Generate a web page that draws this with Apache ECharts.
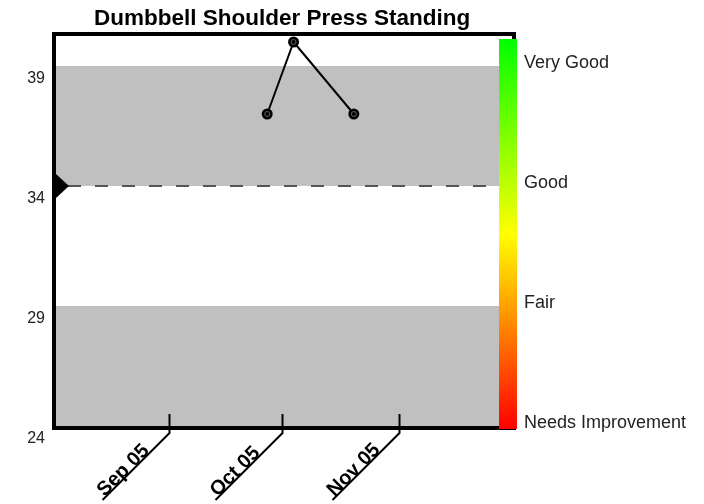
<!DOCTYPE html>
<html>
<head>
<meta charset="utf-8">
<title>Dumbbell Shoulder Press Standing</title>
<script src="https://cdn.jsdelivr.net/npm/echarts@6/dist/echarts.min.js"></script>
<style>
  html, body { margin: 0; padding: 0; background: #fff; }
  #chart { width: 704px; height: 504px; }
</style>
</head>
<body>
<div id="chart"></div>
<script>
// 训练记录
const sessionDates = ['2005-09-27', '2005-10-04', '2005-10-20'];
const sessionValues = [37, 40, 37];

// 坐标轴刻度
const monthTicks = ['2005-09-01', '2005-10-01', '2005-11-01'];
const monthLabels = ['Sep 05', 'Oct 05', 'Nov 05'];
const yTicks = [24, 29, 34, 39];

// 评级
const ratingValues = [39, 34, 29, 24];
const ratingNames = ['Very Good', 'Good', 'Fair', 'Needs Improvement'];
const grayBands = [[24, 29], [34, 39]];
const targetValue = 34;

const FONT = 'Liberation Sans, Arial, sans-serif';
const xMin = new Date(2005, 7, 1, 9).getTime();
const xMax = new Date(2005, 11, 1, 13).getTime();
const yMin = 23.917;
const yMax = 40.333;

const chart = echarts.init(document.getElementById('chart'));

const sessionData = sessionDates.map((d, i) => [d, sessionValues[i]]);

const option = {
  animation: false,
  title: {
    text: 'Dumbbell Shoulder Press Standing',
    left: 94,
    top: 7,
    padding: 0,
    textStyle: { fontFamily: FONT, fontSize: 22.5, fontWeight: 'bold', color: '#000' }
  },
  grid: { left: 54, right: 190, top: 34, bottom: 76 },
  xAxis: {
    type: 'time',
    min: xMin,
    max: xMax,
    axisLine: { show: false },
    axisTick: { show: false },
    axisLabel: { show: false },
    splitLine: { show: false }
  },
  yAxis: [
    {
      type: 'value',
      min: yMin,
      max: yMax,
      axisLine: { show: false },
      axisTick: { show: false },
      splitLine: { show: false },
      axisLabel: {
        customValues: yTicks,
        margin: 9,
        verticalAlign: 'top',
        lineHeight: 26,
        fontFamily: FONT,
        fontSize: 16,
        color: '#222'
      }
    },
    {
      type: 'value',
      position: 'right',
      min: yMin,
      max: yMax,
      axisLine: { show: false },
      axisTick: { show: false },
      splitLine: { show: false },
      axisLabel: {
        customValues: ratingValues,
        margin: 10,
        verticalAlign: 'bottom',
        lineHeight: 6,
        fontFamily: FONT,
        fontSize: 18,
        color: '#222',
        formatter: (v) => {
          const i = ratingValues.indexOf(Math.round(v));
          return i >= 0 ? ratingNames[i] : '';
        }
      }
    }
  ],
  graphic: [
    {
      type: 'rect',
      z: 100,
      shape: { x: 54, y: 34, width: 460, height: 394 },
      style: { fill: null, stroke: '#000', lineWidth: 4 }
    },
    {
      type: 'rect',
      z: 101,
      shape: { x: 499, y: 39, width: 18, height: 390 },
      style: {
        fill: new echarts.graphic.LinearGradient(0, 0, 0, 1, [
          { offset: 0, color: '#00ff00' },
          { offset: 0.5, color: '#ffff00' },
          { offset: 1, color: '#ff0000' }
        ])
      }
    }
  ],
  series: [
    {
      type: 'line',
      data: sessionData,
      symbol: 'circle',
      symbolSize: 11,
      itemStyle: { color: '#000' },
      lineStyle: { color: '#000', width: 2 },
      z: 5,
      markArea: {
        silent: true,
        itemStyle: { color: '#c0c0c0' },
        data: grayBands.map(b => [{ yAxis: b[0] }, { yAxis: b[1] }])
      },
      markLine: {
        silent: true,
        symbol: 'none',
        label: { show: false },
        lineStyle: { color: '#555', width: 2, type: [13, 14], dashOffset: 13 },
        data: [{ yAxis: targetValue }]
      },
      markPoint: {
        silent: true,
        symbol: 'triangle',
        symbolSize: [24, 13],
        symbolRotate: -90,
        symbolOffset: [8.5, 0],
        itemStyle: { color: '#000' },
        label: { show: false },
        data: [{ coord: [xMin, targetValue] }]
      }
    },
    {
      // 圆点内的浅色环
      type: 'scatter',
      data: sessionData,
      symbol: 'circle',
      symbolSize: 5,
      itemStyle: { color: '#000', borderColor: '#777', borderWidth: 1 },
      z: 6,
      silent: true
    },
    {
      // 月份刻度与斜体标签
      type: 'custom',
      z: 20,
      data: monthTicks.map(d => [d]),
      encode: { x: 0 },
      renderItem: (params, api) => {
        const pt = api.coord([api.value(0), yMin]);
        const x = Math.round(pt[0]) + 0.5;
        const y = pt[1];
        return {
          type: 'group',
          children: [
            {
              type: 'polyline',
              shape: { points: [[x, y - 14], [x, y + 5], [x - 67, y + 72]] },
              style: { stroke: '#000', lineWidth: 2, fill: null }
            },
            {
              type: 'text',
              x: x - 66,
              y: y + 71,
              rotation: Math.PI / 4,
              style: {
                text: monthLabels[params.dataIndex],
                x: 2,
                y: 4,
                font: 'bold 20px ' + FONT,
                fill: '#000',
                align: 'left',
                verticalAlign: 'bottom'
              }
            }
          ]
        };
      }
    }
  ]
};

chart.setOption(option);
</script>
</body>
</html>
